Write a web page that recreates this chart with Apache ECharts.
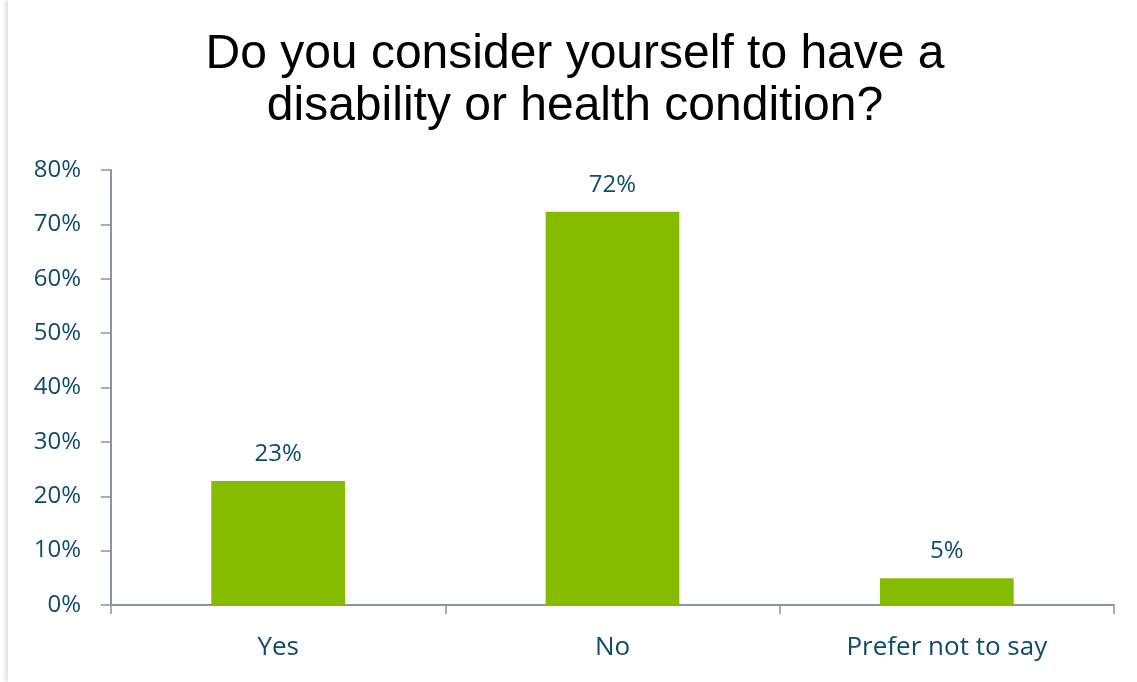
<!DOCTYPE html>
<html><head><meta charset="utf-8">
<script src="https://cdn.jsdelivr.net/npm/echarts@6/dist/echarts.min.js"></script>
<style>
html,body{margin:0;padding:0;background:#fff;}
#wrap{position:absolute;left:8px;top:0;width:1129px;height:682px;box-shadow:-3px 0 4px rgba(0,0,0,0.12);}
#c{position:absolute;left:0;top:0;width:1137px;height:682px;}
</style></head>
<body><div id="wrap"></div><div id="c"></div>
<script>
const categories = ['Yes', 'No', 'Prefer not to say'];
const values = [22.8, 72.3, 4.9];
const yTicks = [0, 10, 20, 30, 40, 50, 60, 70, 80];
const chart = echarts.init(document.getElementById('c'));
const txt = '#0f4c6b';
const axisCol = '#8a94a0';
const lblFont = 'Open Sans, Noto Sans';
chart.setOption({
  title: {
    text: 'Do you consider yourself to have a\ndisability or health condition?',
    left: 570, textAlign: 'center', top: 24,
    textStyle: {fontFamily: 'Liberation Sans, Arial', fontSize: 48, fontWeight: 'normal', color: '#000', lineHeight: 52}
  },
  grid: {left: 111, right: 23, top: 170, bottom: 77},
  xAxis: {
    type: 'category', data: categories,
    axisLine: {lineStyle: {color: axisCol, width: 2}},
    axisTick: {show: true, length: 9, lineStyle: {color: axisCol, width: 1.5}},
    axisLabel: {color: txt, fontSize: 26, fontFamily: lblFont, margin: 30}
  },
  yAxis: {
    type: 'value', min: yTicks[0], max: yTicks[yTicks.length-1], interval: 10,
    splitLine: {show: false},
    axisLine: {show: true, lineStyle: {color: axisCol, width: 2}},
    axisTick: {show: true, length: 10, lineStyle: {color: axisCol, width: 1.5}},
    axisLabel: {color: txt, fontSize: 24, fontFamily: lblFont, margin: 30, formatter: v => v + '%'}
  },
  series: [{
    type: 'bar', data: values, barWidth: '40%',
    itemStyle: {color: '#86bc00'},
    label: {show: true, position: 'top', distance: 15, color: txt, fontSize: 24, fontFamily: lblFont, formatter: p => Math.round(p.value) + '%'}
  }]
});
</script></body></html>
